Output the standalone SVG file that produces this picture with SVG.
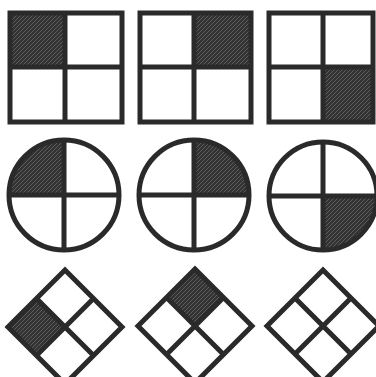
<svg xmlns="http://www.w3.org/2000/svg" width="376" height="377" viewBox="0 0 376 377">
<defs>
<pattern id="hatch" width="4" height="4" patternUnits="userSpaceOnUse">
<rect width="4" height="4" fill="#333333"/>
<path d="M0,4 L4,0" stroke="#5c5c5c" stroke-width="1"/>
</pattern>
</defs>
<style>
.ln{fill:none;stroke:#2a2a2a;stroke-width:5;stroke-linejoin:miter}
.fl{fill:url(#hatch);stroke:none}
</style>
<rect width="376" height="377" fill="#ffffff"/>
<g id="square1">
<rect class="fl" x="10" y="13" width="55" height="54"/>
<rect class="ln" x="10" y="13" width="112" height="109"/>
<path class="ln" d="M65,13V122M10,67H122"/>
</g>
<g id="square2">
<rect class="fl" x="194" y="13" width="57" height="54"/>
<rect class="ln" x="140" y="13" width="111" height="109"/>
<path class="ln" d="M194,13V122M140,67H251"/>
</g>
<g id="square3">
<rect class="fl" x="323" y="67" width="50" height="55"/>
<rect class="ln" x="269" y="13" width="104" height="109"/>
<path class="ln" d="M323,13V122M269,67H373"/>
</g>
<g id="circle1">
<path class="fl" d="M64,195H9A55,55 0 0 1 64,140Z"/>
<circle class="ln" cx="64" cy="195" r="55"/>
<path class="ln" d="M64,140V250M9,195H119"/>
</g>
<g id="circle2">
<path class="fl" d="M194,195V140A55,55 0 0 1 249,195Z"/>
<circle class="ln" cx="194" cy="195" r="55"/>
<path class="ln" d="M194,140V250M139,195H249"/>
</g>
<g id="circle3">
<path class="fl" d="M323,196H377A54,54 0 0 1 323,250Z"/>
<circle class="ln" cx="323" cy="196" r="54"/>
<path class="ln" d="M323,142V250M269,196H377"/>
</g>
<g id="diamond1">
<polygon class="fl" points="8,327 36.5,298.5 65,327 36.5,355.5"/>
<polygon class="ln" points="65,270 122,327 65,384 8,327"/>
<path class="ln" d="M36.5,298.5L93.5,355.5M93.5,298.5L36.5,355.5"/>
</g>
<g id="diamond2">
<polygon class="fl" points="195,269 223.5,297.5 195,326 166.5,297.5"/>
<polygon class="ln" points="195,269 252,326 195,383 138,326"/>
<path class="ln" d="M166.5,297.5L223.5,354.5M223.5,297.5L166.5,354.5"/>
</g>
<g id="diamond3">
<polygon class="ln" points="323,270 379,326 323,382 267,326"/>
<path class="ln" d="M295,298L351,354M351,298L295,354"/>
</g>
<g id="connectors"/>
</svg>
